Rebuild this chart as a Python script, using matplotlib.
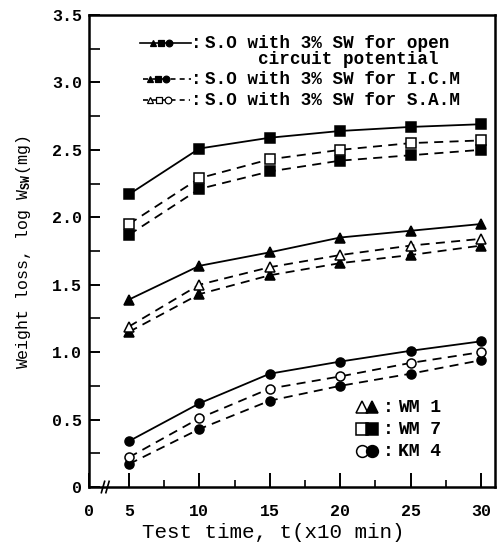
import matplotlib
matplotlib.use("Agg")
import matplotlib.pyplot as plt
from matplotlib.ticker import MultipleLocator, FixedLocator

plt.rcParams['font.family'] = ['Liberation Mono', 'DejaVu Sans Mono', 'DejaVu Sans']
plt.rcParams['font.weight'] = 'bold'
plt.rcParams['mathtext.fontset'] = 'custom'
plt.rcParams['mathtext.rm'] = 'Liberation Mono:bold'
plt.rcParams['mathtext.it'] = 'Liberation Mono:bold'
plt.rcParams['mathtext.bf'] = 'Liberation Mono:bold'

# ---- data ----
time = [5, 10, 15, 20, 25, 30]

wm7_ocp = [2.17, 2.51, 2.59, 2.64, 2.67, 2.69]
wm7_icm = [1.87, 2.21, 2.34, 2.42, 2.46, 2.50]
wm7_sam = [1.95, 2.29, 2.43, 2.50, 2.55, 2.57]

wm1_ocp = [1.39, 1.64, 1.74, 1.85, 1.90, 1.95]
wm1_icm = [1.15, 1.43, 1.57, 1.66, 1.72, 1.79]
wm1_sam = [1.19, 1.50, 1.63, 1.72, 1.79, 1.84]

km4_ocp = [0.34, 0.62, 0.84, 0.93, 1.01, 1.08]
km4_icm = [0.17, 0.43, 0.64, 0.75, 0.84, 0.94]
km4_sam = [0.22, 0.51, 0.73, 0.82, 0.92, 1.00]

x_ticks = [5, 10, 15, 20, 25, 30]
x_tick_labels = ['5', '10', '15', '20', '25', '30']
y_ticks = [0, 0.5, 1.0, 1.5, 2.0, 2.5, 3.0, 3.5]
y_tick_labels = ['0', '0.5', '1.0', '1.5', '2.0', '2.5', '3.0', '3.5']

legend_rows = [
    ('solid', True, 'S.O with 3% SW for open'),
    ('dashed', True, 'S.O with 3% SW for I.C.M'),
    ('dashed', False, 'S.O with 3% SW for S.A.M'),
]
legend_extra = 'circuit potential'
alloy_labels = ['WM 1', 'WM 7', 'KM 4']
alloy_markers = ['^', 's', 'o']

# ---- figure ----
W, H = 502, 548
fig = plt.figure(figsize=(W / 100, H / 100), dpi=100)
L, R, T, B = 89, 495, 15, 487
ax = fig.add_axes([L / W, 1 - B / H, (R - L) / W, (B - T) / H])

XMIN, XMAX = 2.16, 31.0
ax.set_xlim(XMIN, XMAX)
ax.set_ylim(0, 3.5)

DASH = (0, (5, 3.5))
ms = 6.5

series = [
    (wm7_ocp, 's', '-', True), (wm7_icm, 's', DASH, True), (wm7_sam, 's', DASH, False),
    (wm1_ocp, '^', '-', True), (wm1_icm, '^', DASH, True), (wm1_sam, '^', DASH, False),
    (km4_ocp, 'o', '-', True), (km4_icm, 'o', DASH, True), (km4_sam, 'o', DASH, False),
]
for vals, mk, ls, filled in series:
    ax.plot(time, vals, color='black', linestyle=ls, linewidth=1.3,
            marker=mk, markersize=ms, markerfacecolor='black' if filled else 'white',
            markeredgecolor='black', markeredgewidth=1.1, zorder=3)

for s in ax.spines.values():
    s.set_linewidth(1.8)

ax.xaxis.set_major_locator(FixedLocator([XMIN] + x_ticks))
ax.set_xticklabels(['0'] + x_tick_labels)
ax.xaxis.set_minor_locator(FixedLocator([7.5, 12.5, 17.5, 22.5, 27.5]))
ax.yaxis.set_major_locator(FixedLocator(y_ticks))
ax.set_yticklabels(y_tick_labels)
ax.yaxis.set_minor_locator(MultipleLocator(0.25))

ax.tick_params(axis='x', which='major', direction='in', length=10, width=1.4,
               labelsize=12, pad=12)
ax.tick_params(axis='x', which='minor', direction='in', length=5, width=1.2)
ax.tick_params(axis='y', which='major', direction='in', length=8, width=1.4,
               labelsize=12, pad=5)
ax.tick_params(axis='y', which='minor', direction='in', length=8, width=1.2)

ax.set_xlabel('Test time, t(x10 min)', fontsize=15)
ax.xaxis.set_label_coords((273 - L) / (R - L), -(532 - B) / (B - T), transform=ax.transAxes)
ax.xaxis.label.set_va('center')
ax.set_ylabel(r'Weight loss, log W$_{\mathrm{SW}}$(mg)', fontsize=12)
ax.yaxis.set_label_coords(-(L - 23) / (R - L), (B - 252) / (B - T), transform=ax.transAxes)
ax.yaxis.label.set_va('center')

# axis break on the x axis
for xp in (103, 107.5):
    fxp = (xp - L) / (R - L)
    ax.plot([fxp - 0.004, fxp + 0.004], [-0.012, 0.012], transform=ax.transAxes,
            color='black', lw=1.2, clip_on=False, zorder=5)

# ---- legend (top-left) ----
def fx(px):
    return (px - L) / (R - L)

def fy(py):
    return (B - py) / (B - T)

LEG_FS = 12.7
row_y = [43, 79, 100]
row_line = [(140, 191), (143, 191), (143, 190)]
row_marks = [(153, 161, 169), (150, 158, 166), (150, 159, 168)]
for (style, filled, label), py, (x0, x1), mxs in zip(legend_rows, row_y, row_line, row_marks):
    y = fy(py)
    ls = '-' if style == 'solid' else (0, (3, 2.5))
    ax.plot([fx(x0), fx(x1)], [y, y], transform=ax.transAxes, color='black',
            lw=1.2, linestyle=ls, clip_on=False)
    for px, mk in zip(mxs, ['^', 's', 'o']):
        ax.plot([fx(px)], [y], transform=ax.transAxes, marker=mk, markersize=4.8,
                markerfacecolor='black' if filled else 'white', markeredgecolor='black',
                markeredgewidth=0.9, linestyle='none', zorder=6)
    ax.text(fx(196), y, ':', transform=ax.transAxes, fontsize=LEG_FS, va='center', ha='center')
    ax.text(fx(205), y, label, transform=ax.transAxes, fontsize=LEG_FS, va='center', ha='left')
ax.text(fx(258), fy(59), legend_extra, transform=ax.transAxes, fontsize=LEG_FS,
        va='center', ha='left')

# ---- legend (bottom-right) ----
alloy_y = [407, 429, 451]
for lab, mk, py in zip(alloy_labels, alloy_markers, alloy_y):
    y = fy(py)
    ax.plot([fx(362)], [y], transform=ax.transAxes, marker=mk, markersize=8.5,
            markerfacecolor='white', markeredgecolor='black', markeredgewidth=1.1,
            linestyle='none', clip_on=False)
    ax.plot([fx(372)], [y], transform=ax.transAxes, marker=mk, markersize=8.5,
            markerfacecolor='black', markeredgecolor='black', markeredgewidth=1.1,
            linestyle='none', clip_on=False)
    ax.text(fx(388), y, ':', transform=ax.transAxes, fontsize=13, va='center', ha='center')
    ax.text(fx(398), y, lab, transform=ax.transAxes, fontsize=13, va='center', ha='left')

fig.savefig('out.png', dpi=100)
